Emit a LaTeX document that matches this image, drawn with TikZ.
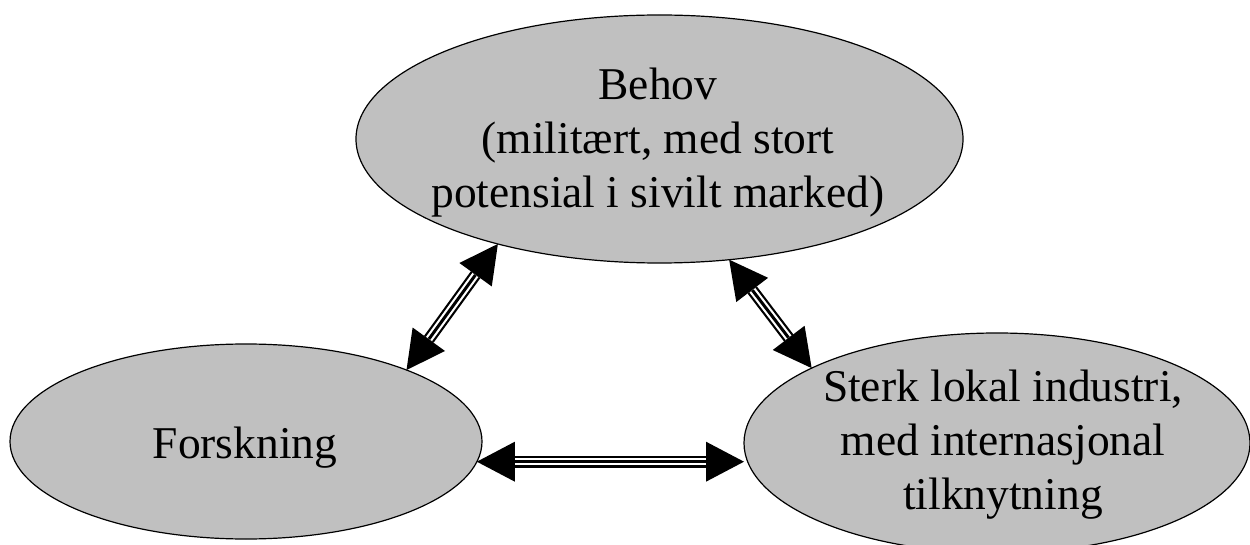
\documentclass[tikz,border=0pt]{standalone}
\usepackage{fontspec}
\setmainfont{Liberation Serif}
\usetikzlibrary{arrows.meta,shapes.geometric}
\definecolor{silv}{RGB}{192,192,192}
\newcommand\stx[1]{\begin{tabular}{@{}c@{}}#1\end{tabular}}
\begin{document}
\begin{tikzpicture}[x=0.75pt,y=-0.75pt,
  blob/.style={ellipse, draw=black, line width=0.9pt, fill=silv, inner sep=0pt, outer sep=0pt},
  txt/.style={inner sep=0pt, font=\fontsize{34.1pt}{40.5pt}\selectfont},
  hd/.tip={Triangle[length=28.5pt,width=30pt,line width=0pt]},
  triple/.style={line width=8.8pt, hd-hd,
    postaction={draw=white, line width=5.5pt, -, shorten <=28.8pt, shorten >=28.8pt},
    postaction={draw=black, line width=2.25pt, -, shorten <=28.8pt, shorten >=28.8pt}}]
\clip (0,0) rectangle (1250,545);
\fill[white] (0,0) rectangle (1250,545);
\node[blob, minimum width=455.25pt, minimum height=186pt] (behov) at (659.5,139) {};
\node[blob, minimum width=354pt, minimum height=146.25pt] (forsk) at (246,441.5) {};
\node[blob, minimum width=379.5pt, minimum height=165pt] (indu) at (997,443) {};
\node[txt] (behovtxt) at (658,143) {\stx{Behov\\(militært, med stort\\potensial i sivilt marked)}};
\node[txt] (forsktxt) at (245,448) {\stx{Forskning}};
\node[txt] (indutxt) at (1003,445) {\stx{Sterk lokal industri,\\med internasjonal\\tilknytning}};
\draw[triple] (forsk.24) -- (behov.213.5);
\draw[triple] (behov.300.8) -- (indu.158.7);
\draw[triple] (forsk.355.8) -- (forsk.355.8 -| indu.west);
\end{tikzpicture}
\end{document}
